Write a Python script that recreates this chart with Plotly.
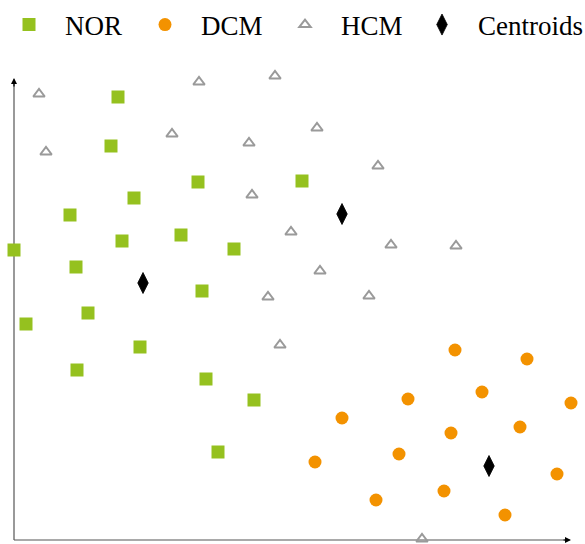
import plotly.graph_objects as go

# Data (x to the right of the vertical axis, y above the horizontal axis)
nor_x = [0, 104, 97, 56, 120, 184, 288, 108, 167, 220, 62, 12, 74, 188, 126, 63, 192, 240, 204]
nor_y = [290, 443, 394, 325, 342, 358, 359, 299, 305, 291, 273, 216, 227, 249, 193, 170, 161, 140, 88]

dcm_x = [441, 513, 394, 468, 557, 328, 437, 506, 301, 385, 543, 362, 430, 491]
dcm_y = [190, 181, 141, 148, 137, 122, 107, 113, 78, 86, 66, 40, 49, 25]

hcm_x = [25, 185, 261, 32, 158, 235, 303, 364, 238, 277, 377, 442, 306, 254, 355, 266, 408]
hcm_y = [446, 458, 464, 388, 406, 397, 412, 374, 345, 308, 295, 294, 269, 243, 244, 195, 1]

cen_x = [129, 328, 475]
cen_y = [257, 326, 74]

X0, X1 = -14, 571
Y0, Y1 = -4, 540

fig = go.Figure()
fig.add_trace(go.Scatter(x=nor_x, y=nor_y, mode="markers", name="NOR", legend="legend",
                         marker=dict(symbol="square", size=13, color="#95c11f")))
fig.add_trace(go.Scatter(x=dcm_x, y=dcm_y, mode="markers", name="DCM", legend="legend2",
                         marker=dict(symbol="circle", size=13, color="#f39200")))
fig.add_trace(go.Scatter(x=hcm_x, y=hcm_y, mode="markers", name="HCM", legend="legend3",
                         marker=dict(symbol="triangle-up-open", size=10, color="#9a9a9a",
                                     line=dict(width=2, color="#9a9a9a"))))
fig.add_trace(go.Scatter(x=cen_x, y=cen_y, mode="markers", name="Centroids", legend="legend4",
                         marker=dict(symbol="diamond-tall", size=15, color="#000000",
                                     line=dict(width=0.8, color="#000000"))))

# axis lines
fig.add_shape(type="line", x0=0, x1=555, y0=0, y1=0, xref="x", yref="y",
              line=dict(color="#555555", width=1.2), layer="below")
fig.add_shape(type="line", x0=0, x1=0, y0=0, y1=458, xref="x", yref="y",
              line=dict(color="#555555", width=1.2), layer="below")
# arrow heads
fig.add_annotation(x=557, y=0, ax=548, ay=0, xref="x", yref="y", axref="x", ayref="y",
                   showarrow=True, arrowhead=2, arrowsize=1, arrowwidth=1.2,
                   arrowcolor="#000000", text="")
fig.add_annotation(x=0, y=462, ax=0, ay=452, xref="x", yref="y", axref="x", ayref="y",
                   showarrow=True, arrowhead=2, arrowsize=1, arrowwidth=1.2,
                   arrowcolor="#000000", text="")

W, H = 585, 544
def leg(xpx):
    return dict(orientation="h", x=xpx / W, xanchor="left", y=1 - 25 / H, yanchor="middle",
                font=dict(family="Liberation Serif", size=27, color="#000000"),
                itemwidth=62, bgcolor="rgba(0,0,0,0)",
                itemclick=False, itemdoubleclick=False)

fig.update_layout(
    width=W, height=H,
    margin=dict(l=0, r=0, t=0, b=0, autoexpand=False),
    paper_bgcolor="white", plot_bgcolor="white",
    xaxis=dict(range=[X0, X1], visible=False, showgrid=False, zeroline=False),
    yaxis=dict(range=[Y0, Y1], visible=False, showgrid=False, zeroline=False),
    showlegend=True,
    legend=leg(-7), legend2=leg(129), legend3=leg(269), legend4=leg(406),
)

fig.write_html("out.html", config={"displayModeBar": False},
               post_script="document.body.style.margin='0px';")
